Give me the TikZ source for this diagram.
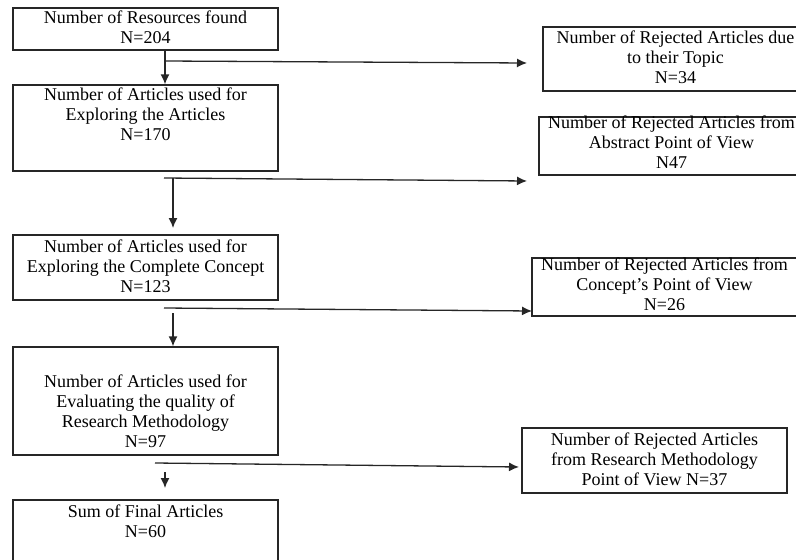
\documentclass[tikz,border=0pt]{standalone}
\usepackage{fontspec}
\setmainfont{Liberation Serif}
\usetikzlibrary{arrows.meta}
\tikzset{
  box/.style={draw=black!85, line width=1.3pt, minimum width=265pt, inner sep=0pt},
  txt/.style={align=center, anchor=base, inner sep=0pt, font=\fontsize{18}{20}\selectfont},
  arr/.style={-{Latex[length=10pt,width=9pt]}, line width=1.3pt, draw=black!85},
}
\begin{document}
\begin{tikzpicture}[x=1pt,y=-1pt]
\useasboundingbox (0,0) rectangle (796,560);
\clip (0,0) rectangle (796,560);
% left column boxes
\node[box, minimum height=42pt]  (b1) at (145.5,29) {};
\node[box, minimum height=86pt]  (b2) at (145.5,128) {};
\node[box, minimum height=65pt]  (b3) at (145.5,267.5) {};
\node[box, minimum height=108pt] (b4) at (145.5,401) {};
\node[box, minimum height=70pt]  (b5) at (145.5,535) {};
% right column boxes
\node[box, minimum height=64pt] (r1) at (675.5,59) {};
\node[box, minimum height=58pt] (r2) at (671.5,146) {};
\node[box, minimum height=58pt] (r3) at (664.5,287) {};
\node[box, minimum height=65pt] (r4) at (654.5,460.5) {};
% texts (anchored at the baseline of their last line)
\node[txt] (t1) at (145.5,43) {Number of Resources found\\N=204};
\node[txt] (t2) at (145.5,140) {Number of Articles used for\\Exploring the Articles\\N=170};
\node[txt] (t3) at (145.5,292) {Number of Articles used for\\Exploring the Complete Concept\\N=123};
\node[txt] (t4) at (145.5,447) {Number of Articles used for\\Evaluating the quality of\\Research Methodology\\N=97};
\node[txt] (t5) at (145.5,537) {Sum of Final Articles\\N=60};
\node[txt] (s1) at (675.5,83) {Number of Rejected Articles due\\to their Topic\\N=34};
\node[txt] (s2) at (671.5,168) {Number of Rejected Articles from\\Abstract Point of View\\N47};
\node[txt] (s3) at (664.5,310) {Number of Rejected Articles from\\Concept’s Point of View\\N=26};
\node[txt] (s4) at (654.5,485) {Number of Rejected Articles\\from Research Methodology\\Point of View N=37};
% junction / free-end coordinates
\coordinate (j1) at (165,61);
\coordinate (e1) at (527,63);
\coordinate (j2) at (164,178);
\coordinate (v2) at (173,178);
\coordinate (v2e) at (173,228);
\coordinate (e2) at (527,181);
\coordinate (j3) at (164,308);
\coordinate (v3) at (173,313);
\coordinate (e3) at (532,311);
\coordinate (j4) at (155,463);
\coordinate (v4) at (165,472);
\coordinate (v4e) at (165,488);
\coordinate (e4) at (519,467);
% connectors
\draw[arr] (b1.south -| j1) -- (b2.north -| j1);
\draw[arr] (j1) -- (e1);
\draw[arr] (j2) -- (e2);
\draw[arr] (v2) -- (v2e);
\draw[arr] (j3) -- (e3);
\draw[arr] (v3) -- (b4.north -| v3);
\draw[arr] (j4) -- (e4);
\draw[arr] (v4) -- (v4e);
\end{tikzpicture}
\end{document}
